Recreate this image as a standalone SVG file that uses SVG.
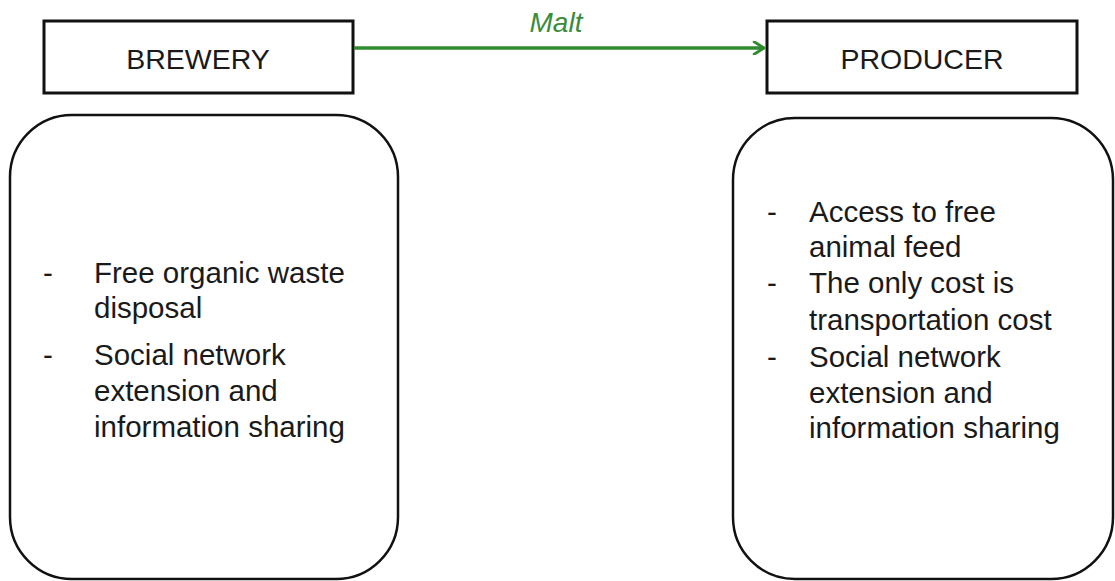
<svg xmlns="http://www.w3.org/2000/svg" width="1115" height="581" viewBox="0 0 1115 581">
<style>
.box{fill:#fff;stroke:#111;stroke-width:3}
.rbox{fill:#fff;stroke:#111;stroke-width:2.5}
.title{font-family:"Liberation Sans",Arial,sans-serif;font-size:28.5px;fill:#1a1a1a;text-anchor:middle}
.body{font-family:"Liberation Sans",Arial,sans-serif;font-size:29.5px;fill:#1a1a1a}
.lbl{font-family:"Liberation Sans",Arial,sans-serif;font-size:28px;font-style:italic;fill:#3a8c3a;text-anchor:middle}
.conn{stroke:#2e8b2e;stroke-width:3.5;fill:none}
</style>
<defs>
<marker id="arr" viewBox="0 0 12 12" refX="10" refY="6" markerWidth="4.2" markerHeight="4.2" orient="auto" markerUnits="strokeWidth">
<polyline points="2,1 10,6 2,11" fill="none" stroke="#2e8b2e" stroke-width="2.4" stroke-linecap="round" stroke-linejoin="round"/>
</marker>
</defs>
<rect width="1115" height="581" fill="#fff"/>
<g id="brewery">
<rect class="box" x="44" y="21" width="309" height="72"/>
<text class="title" x="198" y="69">BREWERY</text>
</g>
<g id="producer">
<rect class="box" x="767" y="21" width="310" height="72"/>
<text class="title" x="922" y="69">PRODUCER</text>
</g>
<g id="brewery-benefits">
<rect class="rbox" x="10" y="115" width="388" height="464" rx="62" ry="62"/>
<text class="body" x="43" y="283">-</text>
<text class="body" x="94" y="283">Free organic waste</text>
<text class="body" x="94" y="318">disposal</text>
<text class="body" x="43" y="365">-</text>
<text class="body" x="94" y="365">Social network</text>
<text class="body" x="94" y="401">extension and</text>
<text class="body" x="94" y="437">information sharing</text>
</g>
<g id="producer-benefits">
<rect class="rbox" x="733" y="118" width="380" height="461" rx="62" ry="62"/>
<text class="body" x="767" y="222">-</text>
<text class="body" x="809" y="222">Access to free</text>
<text class="body" x="809" y="257">animal feed</text>
<text class="body" x="767" y="293">-</text>
<text class="body" x="809" y="293">The only cost is</text>
<text class="body" x="809" y="330">transportation cost</text>
<text class="body" x="767" y="367">-</text>
<text class="body" x="809" y="367">Social network</text>
<text class="body" x="809" y="403">extension and</text>
<text class="body" x="809" y="438">information sharing</text>
</g>
<g id="connectors">
<line class="conn" x1="354" y1="48" x2="764" y2="48" marker-end="url(#arr)"/>
<text class="lbl" x="556" y="32">Malt</text>
</g>
</svg>
